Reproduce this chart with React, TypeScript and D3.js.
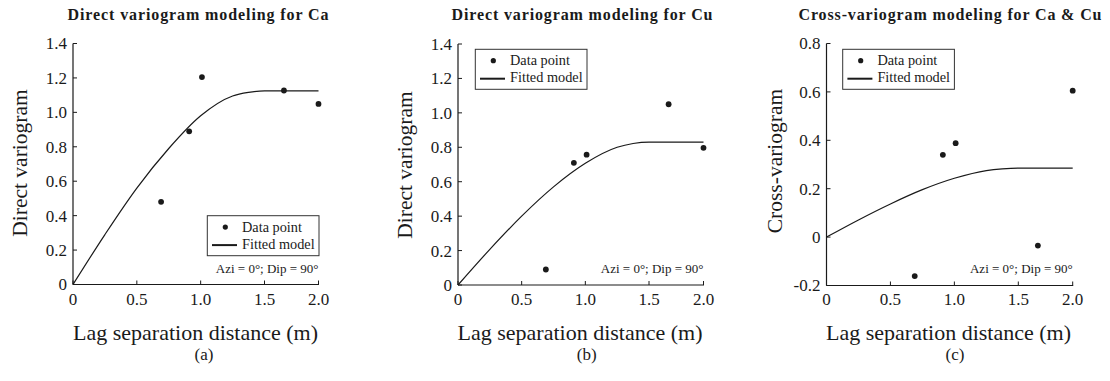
import React from "react";
import * as d3 from "d3";

// ---------- data ----------
const LAGS = [0.69, 0.91, 1.01, 1.68, 2.0];
const CA_GAMMA = [0.48, 0.89, 1.205, 1.127, 1.049];
const CU_GAMMA = [0.09, 0.71, 0.757, 1.05, 0.797];
const CROSS_GAMMA = [-0.161, 0.34, 0.388, -0.035, 0.605];

const MODEL_LAGS = [0, 0.25, 0.5, 0.75, 1.0, 1.25, 1.375, 1.5, 2.0];
const CA_MODEL = [0, 0.29, 0.56, 0.79, 0.98, 1.095, 1.116, 1.125, 1.125];
const CU_MODEL = [0, 0.207, 0.4, 0.57, 0.707, 0.8, 0.822, 0.83, 0.83];
const CROSS_MODEL = [0, 0.071, 0.137, 0.196, 0.243, 0.275, 0.282, 0.285, 0.285];

const X_TICKS = [0, 0.5, 1.0, 1.5, 2.0];
const X_TICK_LABELS = ["0", "0.5", "1.0", "1.5", "2.0"];
const Y_TICKS_DIRECT = [0, 0.2, 0.4, 0.6, 0.8, 1.0, 1.2, 1.4];
const Y_TICK_LABELS_DIRECT = ["0", "0.2", "0.4", "0.6", "0.8", "1.0", "1.2", "1.4"];
const Y_TICKS_CROSS = [-0.2, 0, 0.2, 0.4, 0.6, 0.8];
const Y_TICK_LABELS_CROSS = ["-0.2", "0", "0.2", "0.4", "0.6", "0.8"];

const TITLES = [
  "Direct variogram modeling for Ca",
  "Direct variogram modeling for Cu",
  "Cross-variogram modeling for Ca & Cu",
];
const Y_LABELS = ["Direct variogram", "Direct variogram", "Cross-variogram"];
const X_LABEL = "Lag separation distance (m)";
const CAPTIONS = ["(a)", "(b)", "(c)"];
const LEGEND_LABELS = ["Data point", "Fitted model"];
const NOTE = "Azi = 0°; Dip = 90°";

// ---------- layout ----------
const FONT = "Liberation Serif";
const INK = "#1a1a1a";

const PANELS = [
  {
    points: CA_GAMMA, model: CA_MODEL, yTicks: Y_TICKS_DIRECT, yTickLabels: Y_TICK_LABELS_DIRECT,
    yDomain: [0, 1.4], xRange: [73, 264.5, 318.5], yRange: [284.5, 43.5],
    titleX: 198, titleLen: 261, xLabelX: 195.5, yLabelX: 27, yLabelY: 163, capX: 204,
    legend: { x: 207.3, y: 215.7 },
  },
  {
    points: CU_GAMMA, model: CU_MODEL, yTicks: Y_TICKS_DIRECT, yTickLabels: Y_TICK_LABELS_DIRECT,
    yDomain: [0, 1.4], xRange: [458, 649, 703.5], yRange: [285, 44],
    titleX: 582, titleLen: 261, xLabelX: 580, yLabelX: 412, yLabelY: 165, capX: 586.7,
    legend: { x: 475.3, y: 49.3 },
  },
  {
    points: CROSS_GAMMA, model: CROSS_MODEL, yTicks: Y_TICKS_CROSS, yTickLabels: Y_TICK_LABELS_CROSS,
    yDomain: [-0.2, 0.8], xRange: [826.5, 1018.3, 1072.7], yRange: [285.5, 43.5],
    titleX: 950, titleLen: 303, xLabelX: 948.5, yLabelX: 782, yLabelY: 161, capX: 955,
    legend: { x: 842.7, y: 49.3 },
  },
];

function Panel({ p, i }: { p: (typeof PANELS)[number]; i: number }) {
  const x = d3.scaleLinear().domain([0, 1.5, 2.0]).range(p.xRange);
  const y = d3.scaleLinear().domain(p.yDomain).range(p.yRange);
  const x0 = p.xRange[0];
  const xEnd = p.xRange[2];
  const yBottom = p.yRange[0];
  const yTop = p.yRange[1];
  const line = d3
    .line<number>()
    .x((_, k) => x(MODEL_LAGS[k]))
    .y((d) => y(d))
    .curve(d3.curveMonotoneX);
  const lg = p.legend;
  return (
    <g>
      <text x={p.titleX} y={19.5} textAnchor="middle" fontWeight="bold" fontSize={16}
        textLength={p.titleLen} lengthAdjust="spacing" fill={INK}>{TITLES[i]}</text>
      {/* axes */}
      <line x1={x0} x2={x0} y1={yTop} y2={yBottom} stroke={INK} strokeWidth={1.2} />
      <line x1={x0} x2={xEnd + 0.5} y1={yBottom} y2={yBottom} stroke={INK} strokeWidth={1.2} />
      {p.yTicks.map((t, k) => (
        <g key={"yt" + k}>
          <line x1={x0} x2={x0 + 4} y1={y(t)} y2={y(t)} stroke={INK} strokeWidth={1} />
          <text x={x0 - 6} y={y(t)} dy="0.35em" textAnchor="end" fontSize={17} fill={INK}>
            {p.yTickLabels[k]}
          </text>
        </g>
      ))}
      {X_TICKS.map((t, k) => (
        <g key={"xt" + k}>
          <line x1={x(t)} x2={x(t)} y1={yBottom} y2={yBottom - 4} stroke={INK} strokeWidth={1} />
          <text x={x(t)} y={305} textAnchor="middle" fontSize={17} fill={INK}>
            {X_TICK_LABELS[k]}
          </text>
        </g>
      ))}
      {/* model */}
      <path d={line(p.model) || ""} fill="none" stroke={INK} strokeWidth={1.2} />
      {/* points */}
      {p.points.map((v, k) => (
        <circle key={"pt" + k} cx={x(LAGS[k])} cy={y(v)} r={2.9} fill={INK} />
      ))}
      {/* legend */}
      <rect x={lg.x} y={lg.y} width={111.7} height={40} fill="white" stroke="#333" strokeWidth={1} />
      <circle cx={lg.x + 18} cy={lg.y + 11.4} r={2.6} fill={INK} />
      <text x={lg.x + 34.7} y={lg.y + 16} fontSize={14.3} fill={INK}>{LEGEND_LABELS[0]}</text>
      <line x1={lg.x + 4.7} x2={lg.x + 29.7} y1={lg.y + 29.4} y2={lg.y + 29.4} stroke={INK} strokeWidth={2} />
      <text x={lg.x + 34.7} y={lg.y + 33} fontSize={14.3} fill={INK}>{LEGEND_LABELS[1]}</text>
      {/* note */}
      <text x={xEnd} y={272.5} textAnchor="end" fontSize={13} fill={INK}>{NOTE}</text>
      {/* labels */}
      <text x={p.xLabelX} y={340} textAnchor="middle" fontSize={22} fill={INK}>{X_LABEL}</text>
      <text transform={`translate(${p.yLabelX},${p.yLabelY}) rotate(-90)`} textAnchor="middle"
        fontSize={21.5} fill={INK}>{Y_LABELS[i]}</text>
      <text x={p.capX} y={360} textAnchor="middle" fontSize={17} fill={INK}>{CAPTIONS[i]}</text>
    </g>
  );
}

export default function App() {
  return (
    <svg width={1110} height={381} fontFamily={FONT}
      style={{ position: "absolute", left: 0, top: 0, background: "white", fontFamily: FONT }}>
      <rect width={1110} height={381} fill="white" />
      {PANELS.map((p, i) => (
        <Panel key={i} p={p} i={i} />
      ))}
    </svg>
  );
}
